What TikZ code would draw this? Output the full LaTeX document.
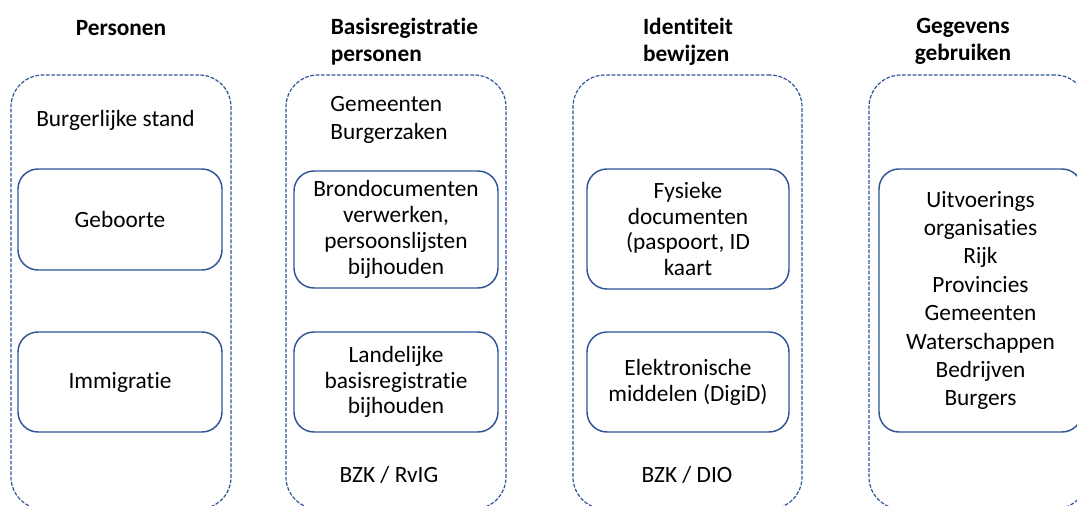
\documentclass[tikz,border=0pt]{standalone}
\usepackage{fontspec}
\setmainfont[Ligatures=NoCommon]{Carlito}
\newlength{\du}
\setlength{\du}{0.75pt}
\definecolor{dialinecolor}{RGB}{47,85,151}
\tikzset{
  outerbox/.style={draw=dialinecolor, line width=0.9pt, dash pattern=on 2.8pt off 1.2pt,
    rounded corners=24pt, minimum height=434\du, inner sep=0pt},
  innerbox/.style={draw=dialinecolor, line width=1.1pt, rounded corners=15pt,
    inner sep=0pt, align=center, font=\fontsize{17.5}{19.4}\selectfont},
  header/.style={inner sep=0pt, font=\fontsize{17.5}{20.3}\selectfont\bfseries},
  plain/.style={inner sep=0pt, font=\fontsize{17.5}{21}\selectfont}
}

\begin{document}
\begin{tikzpicture}
\pgftransformxscale{1.000000}
\pgftransformyscale{-1.000000}
\useasboundingbox (0\du,0\du) rectangle (1077\du,506\du);
\clip (0\du,0\du) rectangle (1077\du,506\du);
% outer groups
\node[outerbox, minimum width=220\du] (personen) at (121\du,292\du) {};
\node[outerbox, minimum width=220\du] (brp) at (396\du,292\du) {};
\node[outerbox, minimum width=229\du] (identiteit) at (687.5\du,292\du) {};
\node[outerbox, minimum width=218\du] (gebruik) at (978\du,292\du) {};
% headers
\node[header] (hpersonen) at (121\du,28\du) {Personen};
\node[header, align=left] (hbrp) at (404.5\du,41.5\du) {Basisregistratie\\personen};
\node[header, align=left] (hidentiteit) at (688\du,41.5\du) {Identiteit\\bewijzen};
\node[header, align=center] (hgebruik) at (963\du,41.5\du) {Gegevens\\gebruiken};
% labels
\node[plain] (stand) at (115.5\du,120\du) {Burgerlijke stand};
\node[plain, align=left] (burgerzaken) at (389\du,120\du) {Gemeenten\\Burgerzaken};
\node[plain] (rvig) at (389\du,475\du) {BZK / RvIG};
\node[plain] (dio) at (687\du,475\du) {BZK / DIO};
% inner boxes
\node[innerbox, minimum width=204\du, minimum height=101\du] (geboorte) at (120\du,219.5\du) {Geboorte};
\node[innerbox, minimum width=204\du, minimum height=100\du] (immigratie) at (120\du,382\du) {Immigratie};
\node[innerbox, minimum width=204\du, minimum height=117\du] (bron) at (396\du,229.5\du) {Brondocumenten\\verwerken,\\persoonslijsten\\bijhouden};
\node[innerbox, minimum width=204\du, minimum height=100\du] (landelijk) at (396\du,382\du) {Landelijke\\basisregistratie\\bijhouden};
\node[innerbox, minimum width=202\du, minimum height=120\du] (fysiek) at (688\du,229\du) {Fysieke\\documenten\\(paspoort, ID\\kaart};
\node[innerbox, minimum width=202\du, minimum height=100\du] (digid) at (688\du,382\du) {Elektronische\\middelen (DigiD)};
\node[innerbox, minimum width=203\du, minimum height=263\du, font=\fontsize{17.5}{21.3}\selectfont] (uitvoering) at (980.5\du,300.5\du) {Uitvoerings\\organisaties\\Rijk\\Provincies\\Gemeenten\\Waterschappen\\Bedrijven\\Burgers};
\end{tikzpicture}
\end{document}
